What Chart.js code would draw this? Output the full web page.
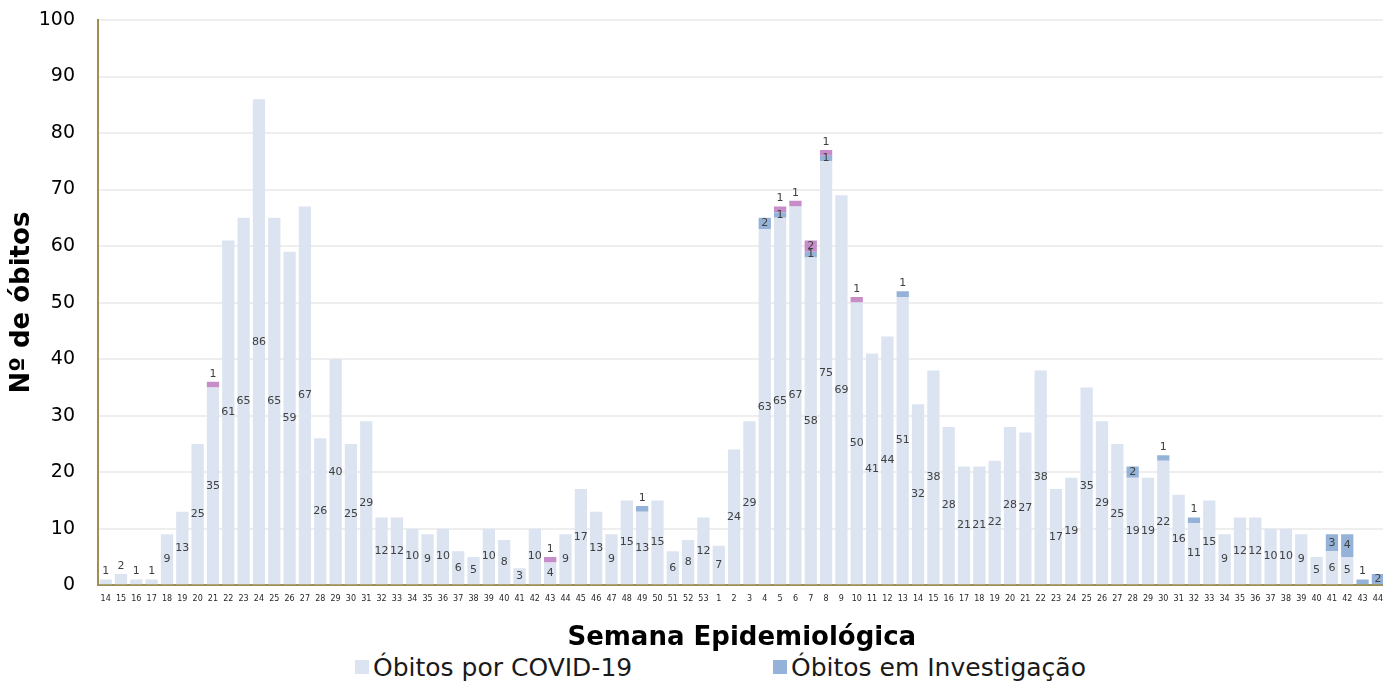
<!DOCTYPE html>
<html lang="pt">
<head>
<meta charset="utf-8">
<title>Óbitos por COVID-19 por Semana Epidemiológica</title>
<script src="https://cdn.jsdelivr.net/npm/chart.js@4/dist/chart.umd.min.js"></script>
<style>
    html, body { margin: 0; padding: 0; background: #fff; overflow: hidden; }
    body { width: 1383px; height: 682px; font-family: "DejaVu Sans", sans-serif; }
    #wrap { position: relative; width: 1392px; height: 654px; }
    #chart-legend {
        display: flex; align-items: center; height: 26px;
        padding-left: 355px; color: #1a1a1a; font-size: 25px;
    }
    .legend-item { display: flex; align-items: center; }
    .legend-item:first-child { width: 418px; }
    .legend-color { width: 14px; height: 14px; margin-right: 4px; display: inline-block; }
</style>
</head>
<body>
<div id="wrap"><canvas id="obitos-chart" width="1392" height="654"></canvas></div>
<div id="chart-legend"></div>
<script>
// Semanas epidemiológicas: 14-53 (2020) e 1-44 (2021)
const weeks = [
    '14', '15', '16', '17', '18', '19', '20', '21', '22', '23', '24', '25', '26', '27', '28', '29', '30', '31',
    '32', '33', '34', '35', '36', '37', '38', '39', '40', '41', '42', '43', '44', '45', '46', '47', '48', '49',
    '50', '51', '52', '53',
    '1', '2', '3', '4', '5', '6', '7', '8', '9', '10', '11', '12', '13', '14', '15', '16', '17', '18', '19',
    '20', '21', '22', '23', '24', '25', '26', '27', '28', '29', '30', '31', '32', '33', '34', '35', '36', '37',
    '38', '39', '40', '41', '42', '43', '44'
];

// Óbitos por COVID-19
const covidDeaths = [
    1, 2, 1, 1, 9, 13, 25, 35, 61, 65, 86, 65, 59, 67, 26, 40, 25, 29,
    12, 12, 10, 9, 10, 6, 5, 10, 8, 3, 10, 4, 9, 17, 13, 9, 15, 13,
    15, 6, 8, 12,
    7, 24, 29, 63, 65, 67, 58, 75, 69, 50, 41, 44, 51, 32, 38, 28, 21, 21, 22,
    28, 27, 38, 17, 19, 35, 29, 25, 19, 19, 22, 16, 11, 15, 9, 12, 12, 10,
    10, 9, 5, 6, 5, 0, 0
];

// Óbitos em Investigação
const investigationDeaths = [
    0, 0, 0, 0, 0, 0, 0, 0, 0, 0, 0, 0, 0, 0, 0, 0, 0, 0,
    0, 0, 0, 0, 0, 0, 0, 0, 0, 0, 0, 0, 0, 0, 0, 0, 0, 1,
    0, 0, 0, 0,
    0, 0, 0, 2, 1, 0, 1, 1, 0, 0, 0, 0, 1, 0, 0, 0, 0, 0, 0,
    0, 0, 0, 0, 0, 0, 0, 0, 2, 0, 1, 0, 1, 0, 0, 0, 0, 0,
    0, 0, 0, 3, 4, 1, 2
];

// Terceira série (rosa), sem entrada visível na legenda
const otherDeaths = [
    0, 0, 0, 0, 0, 0, 0, 1, 0, 0, 0, 0, 0, 0, 0, 0, 0, 0,
    0, 0, 0, 0, 0, 0, 0, 0, 0, 0, 0, 1, 0, 0, 0, 0, 0, 0,
    0, 0, 0, 0,
    0, 0, 0, 0, 1, 1, 2, 1, 0, 1, 0, 0, 0, 0, 0, 0, 0, 0, 0,
    0, 0, 0, 0, 0, 0, 0, 0, 0, 0, 0, 0, 0, 0, 0, 0, 0, 0,
    0, 0, 0, 0, 0, 0, 0
];

const yTicks = [0, 10, 20, 30, 40, 50, 60, 70, 80, 90, 100];

const FONT = '"DejaVu Sans", sans-serif';
const AXIS_COLOR = '#9e8f54';

const seriesConfig = [
    { label: 'Óbitos por COVID-19', data: covidDeaths, color: '#dbe4f0', legend: true },
    { label: 'Óbitos em Investigação', data: investigationDeaths, color: '#95b3d9', legend: true },
    { label: 'Outros', data: otherDeaths, color: '#c78dc8', legend: false }
];

// Value labels drawn on each bar segment
const barLabels = {
    id: 'barLabels',
    afterDatasetsDraw(chart) {
        const ctx = chart.ctx;
        ctx.save();
        ctx.font = '11px ' + FONT;
        ctx.fillStyle = '#404040';
        ctx.textAlign = 'center';
        ctx.textBaseline = 'middle';
        chart.data.datasets.forEach((ds, di) => {
            const meta = chart.getDatasetMeta(di);
            meta.data.forEach((bar, i) => {
                const v = ds.data[i];
                if (!v) return;
                // is there anything stacked above this segment?
                let isTop = true;
                for (let k = di + 1; k < chart.data.datasets.length; k++) {
                    if (chart.data.datasets[k].data[i]) isTop = false;
                }
                const small = di === 0 ? v <= 2 : v <= 1;
                const y = (small && isTop) ? bar.y - 8 : (bar.y + bar.base) / 2;
                ctx.fillText(String(v), bar.x, y);
            });
        });
        ctx.restore();
    }
};

function renderLegend() {
    const box = document.getElementById('chart-legend');
    seriesConfig.filter(s => s.legend).forEach(s => {
        const item = document.createElement('div');
        item.className = 'legend-item';
        const sw = document.createElement('span');
        sw.className = 'legend-color';
        sw.style.backgroundColor = s.color;
        const txt = document.createElement('span');
        txt.textContent = s.label;
        item.appendChild(sw);
        item.appendChild(txt);
        box.appendChild(item);
    });
}

function createChart() {
    const ctx = document.getElementById('obitos-chart');
    new Chart(ctx, {
        type: 'bar',
        data: {
            labels: weeks,
            datasets: seriesConfig.map(s => ({
                label: s.label,
                data: s.data,
                backgroundColor: s.color,
                borderWidth: 0,
                barPercentage: 0.8,
                categoryPercentage: 1.0
            }))
        },
        options: {
            responsive: false,
            animation: false,
            layout: { padding: { top: 20, right: 2, left: 0, bottom: 0 } },
            plugins: {
                legend: { display: false },
                tooltip: { enabled: false }
            },
            scales: {
                x: {
                    stacked: true,
                    grid: { display: false, drawTicks: false },
                    border: { display: true, color: AXIS_COLOR, width: 2 },
                    ticks: {
                        autoSkip: false, maxRotation: 0, minRotation: 0,
                        padding: 9, color: '#262626',
                        font: { family: FONT, size: 8 }
                    },
                    title: {
                        display: true, text: 'Semana Epidemiológica',
                        color: '#000', padding: { top: 10, bottom: 0 },
                        font: { family: FONT, size: 26, weight: 'bold' }
                    }
                },
                y: {
                    stacked: true,
                    min: 0, max: 100,
                    afterBuildTicks: axis => { axis.ticks = yTicks.map(v => ({ value: v })); },
                    afterFit: axis => { axis.width = 98; },
                    grid: {
                        color: '#eeeeee', lineWidth: 2,
                        drawTicks: true, tickLength: 23, tickColor: 'rgba(0,0,0,0)'
                    },
                    border: { display: true, color: AXIS_COLOR, width: 2 },
                    ticks: {
                        padding: 0, color: '#000',
                        font: { family: FONT, size: 19 }
                    },
                    title: {
                        display: true, text: 'Nº de óbitos',
                        color: '#000', padding: { top: 7, bottom: 0 },
                        font: { family: FONT, size: 26, weight: 'bold' }
                    }
                }
            }
        },
        plugins: [barLabels]
    });
}

renderLegend();
createChart();
</script>
</body>
</html>
